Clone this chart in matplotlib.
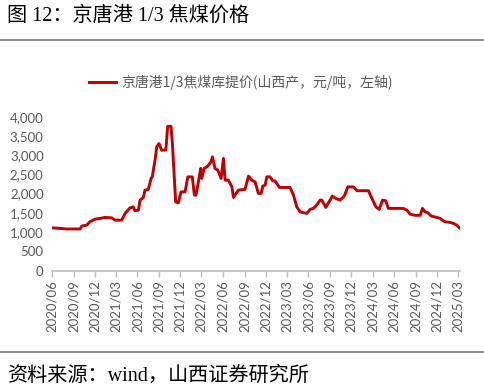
import matplotlib
matplotlib.use("Agg")
import matplotlib.pyplot as plt
import matplotlib.dates as mdates
from matplotlib.lines import Line2D
from matplotlib.ticker import FuncFormatter
import pandas as pd

# Jingtang port 1/3 coking coal price (Shanxi, yuan/t)
DATES = ["2020-06-01", "2020-07-05", "2020-08-03", "2020-09-29", "2020-10-06",
         "2020-10-27", "2020-11-10", "2020-12-02", "2020-12-23", "2021-01-13",
         "2021-02-11", "2021-02-25", "2021-03-26", "2021-04-09", "2021-04-30",
         "2021-05-14", "2021-05-21", "2021-06-05", "2021-06-12", "2021-06-26",
         "2021-07-03", "2021-07-17", "2021-07-29", "2021-08-03", "2021-08-15",
         "2021-08-22", "2021-09-01", "2021-09-12", "2021-09-30", "2021-10-08",
         "2021-10-22", "2021-10-28", "2021-11-05", "2021-11-11", "2021-11-22",
         "2021-12-04", "2021-12-21", "2022-01-02", "2022-01-21", "2022-01-30",
         "2022-02-06", "2022-02-16", "2022-02-26", "2022-03-02", "2022-03-13",
         "2022-03-28", "2022-04-11", "2022-04-17", "2022-04-28", "2022-05-10",
         "2022-05-24", "2022-06-03", "2022-06-10", "2022-06-24", "2022-07-09",
         "2022-07-16", "2022-07-27", "2022-08-06", "2022-09-03", "2022-09-18",
         "2022-10-02", "2022-10-16", "2022-10-30", "2022-11-11", "2022-11-18",
         "2022-11-28", "2022-12-05", "2022-12-19", "2022-12-31", "2023-01-09",
         "2023-01-28", "2023-03-14", "2023-03-29", "2023-04-12", "2023-04-26",
         "2023-05-25", "2023-06-08", "2023-06-22", "2023-07-06", "2023-07-21",
         "2023-07-28", "2023-08-14", "2023-08-28", "2023-09-11", "2023-09-26",
         "2023-10-14", "2023-11-01", "2023-11-16", "2023-12-10", "2023-12-25",
         "2024-02-12", "2024-02-27", "2024-03-15", "2024-03-29", "2024-04-12",
         "2024-04-26", "2024-05-07", "2024-07-10", "2024-07-25", "2024-08-08",
         "2024-08-29", "2024-09-20", "2024-09-30", "2024-10-11", "2024-10-23",
         "2024-11-06", "2024-11-30", "2024-12-14", "2025-01-02", "2025-01-26",
         "2025-02-09", "2025-02-23", "2025-03-05", "2025-03-09"]
PRICE = [1110, 1095, 1080, 1080, 1155,
         1180, 1270, 1335, 1355, 1380,
         1370, 1310, 1310, 1485, 1630,
         1655, 1555, 1570, 1830, 1900,
         2090, 2110, 2395, 2435, 2870,
         3215, 3300, 3130, 3130, 3750,
         3750, 3300, 2435, 1785, 1760,
         2045, 2045, 2435, 2435, 1960,
         1960, 2305, 2655, 2395, 2655,
         2715, 2825, 2955, 2655, 2610,
         2395, 2915, 2350, 2350, 2175,
         1900, 2005, 2090, 2110, 2455,
         2350, 2305, 2005, 2005, 2195,
         2220, 2435, 2435, 2330, 2330,
         2160, 2160, 1960, 1655, 1525,
         1485, 1590, 1615, 1700, 1830,
         1830, 1640, 1785, 1935, 1875,
         1830, 1935, 2175, 2175, 2075,
         2075, 1875, 1655, 1590, 1830,
         1815, 1615, 1615, 1570, 1465,
         1435, 1435, 1615, 1525, 1500,
         1415, 1380, 1355, 1270, 1250,
         1225, 1180, 1120, 1095]

TICK_DATES = pd.date_range("2020-06-01", "2025-03-01", freq="3MS")
Y_TICKS = [0, 500, 1000, 1500, 2000, 2500, 3000, 3500, 4000]

TITLE = "图 12：京唐港 1/3 焦煤价格"
SERIES_NAME = "京唐港1/3焦煤库提价(山西产，元/吨，左轴)"
SOURCE = "资料来源：wind，山西证券研究所"

RED = "#C00000"
GREY_TXT = "#595959"

cjk = ["Noto Sans CJK SC", "DejaVu Sans"]
serif_cjk = ["Liberation Serif", "Noto Sans CJK SC"]

fig = plt.figure(figsize=(4.85, 3.92), dpi=100)
ax = fig.add_axes([52 / 485, 1 - 270.5 / 392, (460 - 52) / 485, (270.5 - 116.7) / 392])

dates = pd.to_datetime(DATES)
ax.plot(dates, PRICE, color=RED, linewidth=2.1, solid_joinstyle="round")

ax.set_ylim(0, 4000)
ax.set_yticks(Y_TICKS)
ax.yaxis.set_major_formatter(FuncFormatter(lambda v, p: f"{int(v):,}"))
ax.set_xlim(pd.Timestamp("2020-06-01"), pd.Timestamp("2025-03-09"))
ax.set_xticks(TICK_DATES)
ax.xaxis.set_major_formatter(mdates.DateFormatter("%Y/%m"))

for s in ["top", "right", "left"]:
    ax.spines[s].set_visible(False)
ax.spines["bottom"].set_color("#bfbfbf")
ax.spines["bottom"].set_linewidth(1.2)
ax.tick_params(axis="y", length=0, pad=6, labelsize=9.5, labelcolor=GREY_TXT)
ax.tick_params(axis="x", length=4, width=1, color="#bfbfbf", pad=3,
               labelsize=9.5, labelcolor=GREY_TXT, labelrotation=90)
for lab in ax.get_xticklabels() + ax.get_yticklabels():
    lab.set_family(["Lato", "DejaVu Sans"])

# legend above the plot
handle = Line2D([], [], color=RED, linewidth=2.1)
fig.legend([handle], [SERIES_NAME], loc="center", bbox_to_anchor=(0.497, 1 - 82 / 392),
           frameon=False, handlelength=1.9, handletextpad=0.4,
           prop={"family": cjk, "size": 10}, labelcolor=GREY_TXT)

# title, rules and source line
fig.text(7 / 485, 1 - 16 / 392, TITLE, family=serif_cjk, fontsize=14.5,
         va="center", ha="left", color="black")
fig.add_artist(Line2D([0, 1], [1 - 39.5 / 392] * 2, color="#808080", linewidth=1.3))
fig.add_artist(Line2D([0, 1], [1 - 351.5 / 392] * 2, color="#808080", linewidth=1.3))
fig.text(7 / 485, 1 - 376 / 392, SOURCE, family=serif_cjk, fontsize=14.5,
         va="center", ha="left", color="black")

fig.savefig("out.png", dpi=100)
